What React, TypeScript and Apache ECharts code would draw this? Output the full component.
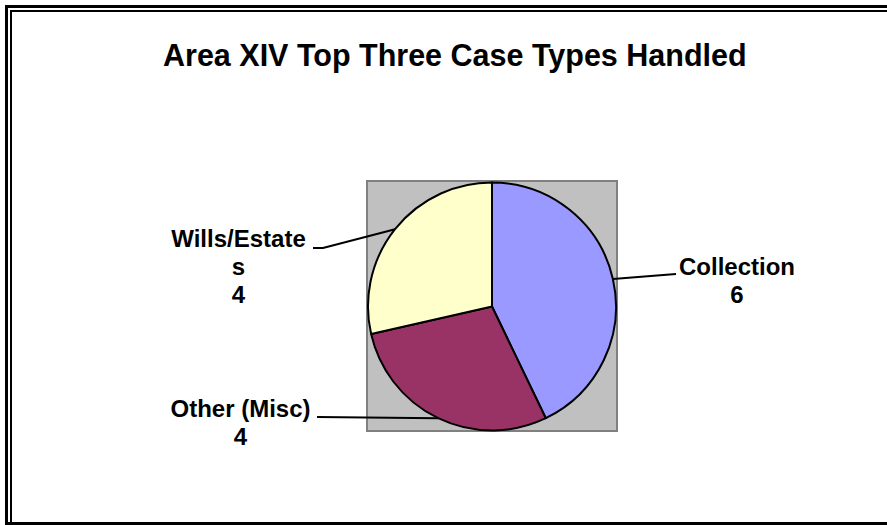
import React, { useEffect, useRef } from "react";
import * as echarts from "echarts";

const titleText = "Area XIV Top Three Case Types Handled";
const categories = ["Collection", "Other (Misc)", "Wills/Estates"];
const values = [6, 4, 4];
const colors = ["#9999FF", "#993366", "#FFFFCC"];

const FONT = 'Arial, "Liberation Sans", Helvetica, sans-serif';

// label placement (label block centre) and leader-line end points, per category
const labelPos: Record<string, { x: number; y: number; line: number[][] }> = {
  "Collection": { x: 737, y: 280, line: [[676, 274]] },
  "Other (Misc)": { x: 240.5, y: 422, line: [[317, 417]] },
  "Wills/Estates": { x: 238.5, y: 266, line: [[323, 248], [313, 248]] },
};

export default function App() {
  const ref = useRef<HTMLDivElement>(null);
  useEffect(() => {
    if (!ref.current) return;
    const chart = echarts.init(ref.current, undefined, { renderer: "svg" });
    chart.setOption({
      animation: false,
      backgroundColor: "#ffffff",
      title: {
        text: titleText,
        left: 163,
        top: 39,
        padding: 0,
        textStyle: { fontFamily: FONT, fontSize: 30.5, fontWeight: "bold", color: "#000" },
      },
      graphic: [
        // frame (double line on left/top, single at bottom)
        { type: "rect", z: -10, shape: { x: 5, y: 5, width: 3, height: 520 }, style: { fill: "#000" } },
        { type: "rect", z: -10, shape: { x: 5, y: 5, width: 882, height: 3 }, style: { fill: "#000" } },
        { type: "rect", z: -10, shape: { x: 10, y: 10, width: 2, height: 512 }, style: { fill: "#000" } },
        { type: "rect", z: -10, shape: { x: 10, y: 10, width: 877, height: 2 }, style: { fill: "#000" } },
        { type: "rect", z: -10, shape: { x: 5, y: 522, width: 882, height: 3 }, style: { fill: "#000" } },
        // plot area
        {
          type: "rect",
          z: -5,
          shape: { x: 367, y: 181, width: 250, height: 250 },
          style: { fill: "#C0C0C0", stroke: "#808080", lineWidth: 2 },
        },
      ],
      series: [
        {
          type: "pie",
          center: [492, 306.5],
          radius: 124,
          startAngle: 90,
          clockwise: true,
          data: categories.map((c, i) => ({ name: c, value: values[i], itemStyle: { color: colors[i] } })),
          itemStyle: { borderColor: "#000", borderWidth: 2 },
          label: {
            show: true,
            position: "outside",
            formatter: "{b}\n{c}",
            fontFamily: FONT,
            fontSize: 24,
            fontWeight: "bold",
            color: "#000",
            lineHeight: 28,
            align: "center",
            width: 142,
            overflow: "breakAll",
          },
          labelLine: { show: true, lineStyle: { color: "#000", width: 2 } },
          labelLayout: (params: any) => {
            const name = categories[params.dataIndex];
            const p = labelPos[name];
            const anchor = params.labelLinePoints ? params.labelLinePoints[0] : null;
            const out: any = { x: p.x, y: p.y, align: "center", verticalAlign: "middle" };
            if (anchor) out.labelLinePoints = [anchor, ...p.line];
            return out;
          },
          emphasis: { disabled: true },
        },
      ],
    });
    return () => chart.dispose();
  }, []);
  return (
    <div
      ref={ref}
      style={{ position: "fixed", left: 0, top: 0, width: 887, height: 525, background: "#fff" }}
    />
  );
}
